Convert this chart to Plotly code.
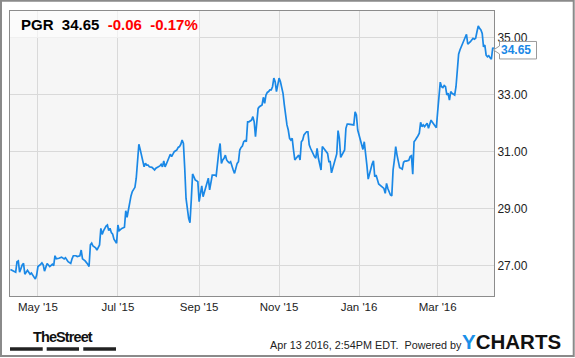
import plotly.graph_objects as go

ticker = "PGR"
last_price = 34.65
change = "-0.06"
change_pct = "-0.17%"
timestamp_text = "Apr 13 2016, 2:54PM EDT.  Powered by"

dates = [
    "2015-04-10", "2015-04-13", "2015-04-14", "2015-04-15", "2015-04-16", "2015-04-17",
    "2015-04-19", "2015-04-20", "2015-04-21", "2015-04-23", "2015-04-24", "2015-04-25",
    "2015-04-26", "2015-04-28", "2015-04-29", "2015-04-30",
    "2015-05-01", "2015-05-03", "2015-05-04", "2015-05-05", "2015-05-06", "2015-05-08",
    "2015-05-09", "2015-05-10", "2015-05-12", "2015-05-13", "2015-05-14", "2015-05-15",
    "2015-05-17", "2015-05-19", "2015-05-21", "2015-05-22", "2015-05-24", "2015-05-26",
    "2015-05-27", "2015-05-28", "2015-05-30", "2015-05-31",
    "2015-06-02", "2015-06-03", "2015-06-04", "2015-06-06", "2015-06-08", "2015-06-09",
    "2015-06-10", "2015-06-11", "2015-06-12", "2015-06-14", "2015-06-15", "2015-06-16",
    "2015-06-17", "2015-06-18", "2015-06-19", "2015-06-20", "2015-06-21", "2015-06-22",
    "2015-06-23", "2015-06-24", "2015-06-25", "2015-06-26", "2015-06-27", "2015-06-28",
    "2015-06-30",
    "2015-07-01", "2015-07-02", "2015-07-03", "2015-07-04", "2015-07-06", "2015-07-07",
    "2015-07-08", "2015-07-09", "2015-07-10", "2015-07-11", "2015-07-12", "2015-07-13",
    "2015-07-14", "2015-07-15", "2015-07-16", "2015-07-17", "2015-07-18", "2015-07-19",
    "2015-07-20", "2015-07-21", "2015-07-22", "2015-07-23", "2015-07-24", "2015-07-25",
    "2015-07-27", "2015-07-28", "2015-07-29", "2015-07-30",
    "2015-08-01", "2015-08-02", "2015-08-03", "2015-08-04", "2015-08-05", "2015-08-06",
    "2015-08-07", "2015-08-08", "2015-08-09", "2015-08-10", "2015-08-11", "2015-08-12",
    "2015-08-13", "2015-08-15", "2015-08-16", "2015-08-17", "2015-08-18", "2015-08-19",
    "2015-08-20", "2015-08-21", "2015-08-22", "2015-08-24", "2015-08-25", "2015-08-26",
    "2015-08-27", "2015-08-28", "2015-08-29", "2015-08-30", "2015-08-31",
    "2015-09-01", "2015-09-02", "2015-09-03", "2015-09-04", "2015-09-05", "2015-09-06",
    "2015-09-07", "2015-09-08", "2015-09-09", "2015-09-10", "2015-09-11", "2015-09-12",
    "2015-09-13", "2015-09-14", "2015-09-15", "2015-09-16", "2015-09-17", "2015-09-18",
    "2015-09-19", "2015-09-20", "2015-09-21", "2015-09-22", "2015-09-23", "2015-09-24",
    "2015-09-25", "2015-09-26", "2015-09-27", "2015-09-28", "2015-09-29", "2015-09-30",
    "2015-10-01", "2015-10-02", "2015-10-03", "2015-10-04", "2015-10-05", "2015-10-06",
    "2015-10-07", "2015-10-08", "2015-10-09", "2015-10-10", "2015-10-11", "2015-10-12",
    "2015-10-13", "2015-10-14", "2015-10-15", "2015-10-16", "2015-10-17", "2015-10-18",
    "2015-10-19", "2015-10-20", "2015-10-21", "2015-10-22", "2015-10-23", "2015-10-24",
    "2015-10-25", "2015-10-26", "2015-10-27", "2015-10-28", "2015-10-29", "2015-10-30",
    "2015-10-31",
    "2015-11-01", "2015-11-02", "2015-11-03", "2015-11-04", "2015-11-05", "2015-11-06",
    "2015-11-07", "2015-11-08", "2015-11-09", "2015-11-10", "2015-11-11", "2015-11-12",
    "2015-11-13", "2015-11-14", "2015-11-15", "2015-11-16", "2015-11-17", "2015-11-18",
    "2015-11-19", "2015-11-20", "2015-11-21", "2015-11-22", "2015-11-23", "2015-11-24",
    "2015-11-25", "2015-11-26", "2015-11-27", "2015-11-28", "2015-11-29", "2015-11-30",
    "2015-12-01", "2015-12-03", "2015-12-04", "2015-12-05", "2015-12-06", "2015-12-07",
    "2015-12-08", "2015-12-09", "2015-12-10", "2015-12-11", "2015-12-12", "2015-12-13",
    "2015-12-14", "2015-12-15", "2015-12-16", "2015-12-17", "2015-12-18", "2015-12-19",
    "2015-12-20", "2015-12-21", "2015-12-22", "2015-12-23", "2015-12-24", "2015-12-25",
    "2015-12-26", "2015-12-27", "2015-12-28", "2015-12-29", "2015-12-30", "2015-12-31",
    "2016-01-01", "2016-01-02", "2016-01-03", "2016-01-04", "2016-01-05", "2016-01-06",
    "2016-01-07", "2016-01-08", "2016-01-09", "2016-01-10", "2016-01-11", "2016-01-12",
    "2016-01-13", "2016-01-14", "2016-01-15", "2016-01-16", "2016-01-17", "2016-01-18",
    "2016-01-19", "2016-01-20", "2016-01-21", "2016-01-22", "2016-01-23", "2016-01-24",
    "2016-01-25", "2016-01-26", "2016-01-27", "2016-01-28", "2016-01-29", "2016-01-30",
    "2016-01-31",
    "2016-02-01", "2016-02-02", "2016-02-03", "2016-02-04", "2016-02-05", "2016-02-06",
    "2016-02-07", "2016-02-08", "2016-02-09", "2016-02-10", "2016-02-11", "2016-02-12",
    "2016-02-13", "2016-02-14", "2016-02-15", "2016-02-16", "2016-02-17", "2016-02-18",
    "2016-02-19", "2016-02-20", "2016-02-21", "2016-02-22", "2016-02-23", "2016-02-24",
    "2016-02-25", "2016-02-26", "2016-02-27", "2016-02-28", "2016-02-29",
    "2016-03-01", "2016-03-02", "2016-03-03", "2016-03-04", "2016-03-05", "2016-03-06",
    "2016-03-07", "2016-03-08", "2016-03-09", "2016-03-10", "2016-03-11", "2016-03-12",
    "2016-03-13", "2016-03-14", "2016-03-15", "2016-03-16", "2016-03-17", "2016-03-18",
    "2016-03-19", "2016-03-20", "2016-03-21", "2016-03-22", "2016-03-23", "2016-03-24",
    "2016-03-25", "2016-03-26", "2016-03-27", "2016-03-28", "2016-03-29", "2016-03-30",
    "2016-03-31",
    "2016-04-01", "2016-04-02", "2016-04-03", "2016-04-04", "2016-04-05", "2016-04-06",
    "2016-04-07", "2016-04-08", "2016-04-09", "2016-04-10", "2016-04-11", "2016-04-12",
    "2016-04-13",
]

prices = [
    26.88, 26.82, 26.78, 27.15, 27.18, 26.78,
    27.04, 27.09, 26.71, 26.85, 26.78, 26.71,
    26.75, 26.63, 26.54, 26.68,
    26.98, 27.06, 27.11, 27.04, 26.82, 27.09,
    27.04, 26.98, 27.06, 27.01, 27.36, 27.25,
    27.27, 27.31, 27.25, 27.29, 27.15, 27.09,
    27.25, 27.36, 27.36, 27.33,
    27.36, 27.56, 27.25, 27.18, 27.06, 26.98,
    27.74, 27.80, 27.70, 27.64, 27.56, 27.64,
    27.74, 28.32, 28.11, 28.23, 28.32, 28.40,
    28.44, 28.24, 28.32, 28.17, 28.12, 27.94,
    27.80,
    28.44, 28.24, 28.29, 28.32, 28.36, 28.94,
    28.71, 28.96, 29.34, 29.46, 29.61, 29.69,
    29.76, 30.08, 30.60, 31.27, 31.09, 30.84,
    30.62, 30.48, 30.60, 30.54, 30.54, 30.48,
    30.46, 30.41, 30.37, 30.43,
    30.48, 30.51, 30.57, 30.48, 30.69, 30.48,
    30.58, 30.72, 30.84, 30.92, 30.84, 30.95,
    31.01, 31.07, 31.16, 31.19, 31.27, 31.42,
    31.30, 30.43, 29.37, 28.67, 28.52, 29.32,
    30.23, 30.13, 30.02, 29.99, 29.96,
    29.26, 29.61, 29.81, 29.43, 29.61, 29.78,
    29.90, 30.08, 29.67, 29.90, 30.19, 30.19,
    30.19, 30.16, 30.72, 31.01, 31.30, 30.60,
    30.72, 30.78, 30.89, 30.72, 30.66, 30.62,
    30.66, 30.48, 30.37, 30.25, 30.43, 30.60,
    30.66, 31.07, 31.16, 31.21, 31.36, 31.40,
    31.36, 32.06, 32.06, 32.09, 32.12, 32.24,
    32.06, 31.54, 31.95, 32.53, 32.59, 32.62,
    32.65, 32.92, 32.71, 33.00, 33.09, 33.12,
    33.18, 33.18, 33.29, 33.59, 33.47, 33.12,
    33.35,
    33.59, 33.47, 33.23, 33.06, 32.65, 32.18,
    31.95, 31.77, 31.48, 31.42, 31.48, 31.07,
    30.72, 30.78, 30.84, 30.89, 30.72, 31.36,
    31.42, 31.60, 31.66, 31.71, 31.71, 31.25,
    31.13, 31.01, 30.95, 30.84, 30.78, 31.13,
    30.78, 30.37, 31.19, 31.13, 31.07, 31.01,
    30.95, 30.66, 30.66, 30.27, 30.43, 30.60,
    30.78, 30.93, 31.75, 31.48, 30.81, 30.89,
    30.98, 31.07, 31.83, 31.98, 31.98, 31.97,
    31.95, 31.95, 31.95, 32.41, 32.30, 31.77,
    31.60, 31.42, 31.30, 31.09, 31.36, 31.01,
    30.54, 30.05, 30.25, 30.43, 30.58, 30.69,
    30.13, 30.19, 30.04, 29.88, 29.84, 29.81,
    29.78, 29.72, 29.55, 29.90, 29.72, 29.57,
    29.49, 29.46, 30.37, 30.72, 31.19, 30.89,
    30.66,
    30.45, 30.43, 30.40, 30.64, 30.68, 30.68,
    30.69, 30.71, 30.84, 30.87, 30.22, 31.36,
    31.42, 31.48, 31.57, 31.66, 32.04, 31.89,
    31.95, 31.89, 31.97, 32.01, 31.83, 31.95,
    32.12, 32.04, 31.97, 31.89, 31.85,
    32.41, 32.94, 33.45, 33.29, 33.26, 33.33,
    33.29, 33.00, 33.06, 32.82, 33.12, 33.06,
    33.02, 33.00, 33.29, 33.94, 34.43, 34.58,
    34.69, 34.81, 34.93, 35.01, 35.13, 34.78,
    34.81, 34.87, 34.93, 34.99, 34.96, 34.99,
    35.22,
    35.42, 35.34, 35.28, 35.16, 34.69, 34.75,
    34.40, 34.34, 34.38, 34.31, 34.26, 34.64,
    34.65,
]

x_range = ["2015-04-09 16:00", "2016-04-13"]
y_range = [25.947, 35.947]
y_ticks = [27, 29, 31, 33, 35]

LINE = "#1a88e6"
FONT = "Liberation Sans, Arial, sans-serif"

fig = go.Figure()
fig.add_trace(go.Scatter(
    x=dates, y=prices, mode="lines",
    line=dict(color=LINE, width=1.7),
    hoverinfo="skip", showlegend=False,
))

fig.update_layout(
    width=575, height=358,
    margin=dict(l=10, r=81, t=11, b=62),
    paper_bgcolor="white",
    plot_bgcolor="#f6f6f6",
    font=dict(family=FONT, size=12, color="#222"),
    showlegend=False,
    xaxis=dict(
        type="date", range=x_range,
        tickmode="linear", tick0="2015-05-01", dtick="M2",
        tickformat="%b '%y",
        showgrid=True, gridcolor="#d9d9d9", gridwidth=1,
        showline=True, mirror=True, linecolor="#8c8c8c", linewidth=1,
        ticks="", zeroline=False,
        tickfont=dict(size=11.5, color="#222", family=FONT),
    ),
    yaxis=dict(
        side="right", range=y_range,
        tickmode="array", tickvals=y_ticks,
        ticktext=[f"{v:.2f}" for v in y_ticks],
        showgrid=True, gridcolor="#d9d9d9", gridwidth=1,
        showline=True, mirror=True, linecolor="#8c8c8c", linewidth=1,
        ticks="", zeroline=False,
        tickfont=dict(size=12, color="#222", family=FONT),
    ),
)

# header translucent box
fig.add_shape(type="rect", xref="paper", yref="paper",
              x0=0, x1=0.391, y0=0.905, y1=1,
              fillcolor="rgba(255,255,255,0.6)", line=dict(width=0), layer="above")

fig.add_annotation(
    xref="paper", yref="paper", x=0, y=1, xanchor="left", yanchor="middle",
    xshift=9, yshift=-13, showarrow=False,
    text=(f"<b>{ticker}&nbsp;&nbsp;{last_price:.2f}&nbsp;&nbsp;"
          f"<span style='color:#ff0000'>{change}&nbsp;&nbsp;{change_pct}</span></b>"),
    font=dict(size=15, color="#000", family=FONT),
)

# last price callout
fig.add_shape(type="path", xref="paper", yref="y",
              xsizemode="pixel", ysizemode="pixel",
              xanchor=1, yanchor=last_price,
              path="M 5.5,6.5 L 42.5,6.5 L 42.5,-11 L 5.5,-11 L 5.5,-6 L -0.5,-2 L 5.5,2 Z",
              fillcolor="white", line=dict(color="#9a9a9a", width=1), layer="above")
fig.add_annotation(
    xref="paper", yref="y", x=1, y=last_price, xanchor="left", yanchor="middle",
    xshift=5, yshift=-2, showarrow=False,
    text=f"<b>{last_price:.2f}</b>",
    font=dict(size=12, color=LINE, family=FONT),
)

# footer
fig.add_annotation(
    xref="paper", yref="paper", x=0.9287, y=-0.172, xanchor="right", yanchor="middle",
    xshift=5, showarrow=False, text=timestamp_text,
    font=dict(size=10.8, color="#222", family=FONT),
)
fig.add_annotation(
    xref="paper", yref="paper", x=0.936, y=-0.1614, xanchor="left", yanchor="middle",
    xshift=-3, showarrow=False,
    text="<b><span style='color:#1a8fe8'>Y</span>CHARTS</b>",
    font=dict(size=20.5, color="#111", family=FONT),
)
fig.add_annotation(
    xref="paper", yref="paper", x=0.1105, y=-0.1368, xanchor="center", yanchor="middle",
    yshift=-2, showarrow=False,
    text="<b><span style='letter-spacing:-0.9px'>TheStreet</span></b>",
    font=dict(size=14.5, color="#111", family=FONT),
)
for x0, x1 in [(0.0, 0.0676), (0.0758, 0.1426), (0.1514, 0.219)]:
    fig.add_shape(type="rect", xref="paper", yref="paper",
                  x0=x0, x1=x1, y0=-0.192, y1=-0.18,
                  fillcolor="#222", line=dict(width=0))

# outer border
fig.add_shape(type="rect", xref="paper", yref="paper",
              x0=-0.0186, x1=1.1647, y0=-0.2105, y1=1.0358,
              line=dict(color="#8a8a8a", width=2), fillcolor="rgba(0,0,0,0)")

fig.write_html("out.html", config={"displayModeBar": False},
               post_script="document.body.style.margin='0px';document.body.style.padding='0px';")
